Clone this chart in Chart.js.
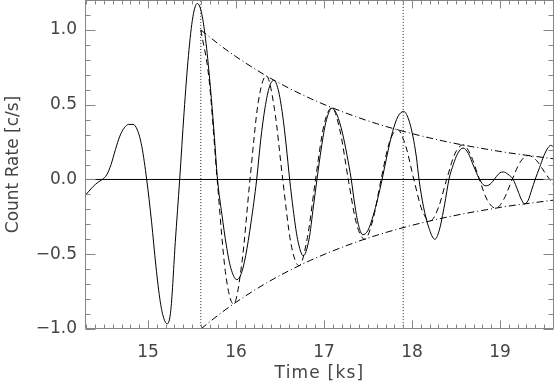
<!DOCTYPE html>
<html>
<head>
<meta charset="utf-8">
<script src="https://cdn.jsdelivr.net/npm/chart.js@4/dist/chart.umd.min.js"></script>
<style>
  html, body { margin: 0; padding: 0; background: #fff; }
  #wrap { width: 554px; height: 386px; }
</style>
</head>
<body>
<div id="wrap"><canvas id="lc" width="554" height="386"></canvas></div>
<script>
// axis limits and ticks
const xMin = 14.284, xMax = 19.614;
const yMin = -1.0, yMax = 1.2;
const xMajorTicks = [15, 16, 17, 18, 19];
const yMajorTicks = [-1.0, -0.5, 0.0, 0.5, 1.0];
const dottedMarks = [15.6, 17.9];

// observed light curve (solid)
const lcTime = [14.284, 14.33, 14.38, 14.43, 14.48, 14.53, 14.58, 14.63, 14.68, 14.73, 14.78, 14.83, 14.88, 14.93, 14.985,
  15.04, 15.09, 15.14, 15.18, 15.22, 15.26, 15.31, 15.36, 15.41, 15.46, 15.51, 15.56, 15.61, 15.66, 15.71, 15.75, 15.79,
  15.84, 15.89, 15.94, 16.01, 16.06, 16.11, 16.17, 16.235, 16.28, 16.33, 16.38, 16.43, 16.48, 16.53, 16.57, 16.61,
  16.65, 16.70, 16.765, 16.83, 16.88, 16.92, 16.97, 17.02, 17.09, 17.15, 17.21, 17.26, 17.31, 17.35, 17.39, 17.44,
  17.50, 17.56, 17.61, 17.66, 17.72, 17.78, 17.84, 17.905, 17.96, 18.01, 18.05, 18.08, 18.13, 18.19, 18.26, 18.31,
  18.37, 18.42, 18.47, 18.52, 18.58, 18.64, 18.70, 18.76, 18.81, 18.85, 18.90, 18.96, 19.00, 19.04, 19.09, 19.15,
  19.20, 19.24, 19.28, 19.32, 19.36, 19.40, 19.45, 19.50, 19.55, 19.58, 19.614];
const lcRate = [-0.107, -0.078, -0.045, -0.02, 0.0, 0.03, 0.10, 0.20, 0.29, 0.345, 0.368, 0.368, 0.33, 0.22, 0.0,
  -0.28, -0.58, -0.82, -0.93, -0.965, -0.87, -0.42, 0.0, 0.45, 0.83, 1.087, 1.177, 1.11, 0.91, 0.61, 0.32, 0.0,
  -0.235, -0.44, -0.59, -0.67, -0.63, -0.51, -0.29, 0.0, 0.26, 0.48, 0.62, 0.663, 0.60, 0.43, 0.23, 0.0,
  -0.20, -0.40, -0.51, -0.40, -0.18, 0.0, 0.21, 0.38, 0.476, 0.43, 0.31, 0.167, 0.0, -0.17, -0.30, -0.37,
  -0.34, -0.24, -0.13, 0.0, 0.17, 0.32, 0.42, 0.455, 0.405, 0.29, 0.15, 0.0, -0.18, -0.32, -0.40, -0.34,
  -0.17, 0.0, 0.10, 0.175, 0.21, 0.175, 0.09, 0.01, -0.035, -0.042, -0.025, 0.02, 0.045, 0.05, 0.035, 0.0,
  -0.07, -0.13, -0.163, -0.14, -0.07, 0.0, 0.08, 0.16, 0.215, 0.228, 0.215];

// damped oscillation fit (dashed)
const fitTime = [15.600, 15.693, 15.786, 15.879, 15.973, 16.066, 16.159, 16.252, 16.345, 16.438, 16.531, 16.624,
  16.718, 16.811, 16.904, 16.997, 17.090, 17.183, 17.276, 17.369, 17.463, 17.556, 17.649, 17.742, 17.835, 17.928,
  18.021, 18.114, 18.208, 18.301, 18.394, 18.487, 18.580, 18.673, 18.766, 18.859, 18.953, 19.046, 19.139, 19.232,
  19.325, 19.418, 19.511, 19.614];
const fitRate = [1.00, 0.675, 0.0, -0.616, -0.833, -0.562, 0.0, 0.513, 0.693, 0.468, 0.0, -0.427,
  -0.577, -0.390, 0.0, 0.356, 0.480, 0.324, 0.0, -0.296, -0.400, -0.270, 0.0, 0.246, 0.333, 0.225,
  0.0, -0.205, -0.277, -0.187, 0.0, 0.171, 0.231, 0.156, 0.0, -0.142, -0.192, -0.130, 0.0, 0.118,
  0.160, 0.125, 0.045, -0.04];

// decay envelope (dash-dot)
const envTime = [15.6, 15.85, 16.1, 16.35, 16.6, 16.85, 17.1, 17.35, 17.6, 17.85, 18.1, 18.35, 18.6, 18.85, 19.1, 19.35, 19.614];
const envUpper = [1.00, 0.884, 0.782, 0.691, 0.611, 0.540, 0.478, 0.422, 0.373, 0.330, 0.292, 0.258, 0.228, 0.202, 0.178, 0.158, 0.138];
const envLower = [-1.00, -0.884, -0.782, -0.691, -0.611, -0.540, -0.478, -0.422, -0.373, -0.330, -0.292, -0.258, -0.228, -0.202, -0.178, -0.158, -0.138];

const AXIS_COLOR = '#858585';
const TEXT_COLOR = '#444444';
const FONT = 'DejaVu Sans';

const pairs = (xs, ys) => xs.map((x, i) => ({ x, y: ys[i] }));
const minus = (v) => (v < 0 ? '\u2212' : '') + Math.abs(v).toFixed(1);

function lineSet(data, dash, color) {
  return {
    data,
    borderColor: color || '#000',
    borderWidth: 1,
    borderDash: dash || [],
    pointRadius: 0,
    fill: false,
    cubicInterpolationMode: 'monotone'
  };
}

const datasets = [
  lineSet([{ x: xMin, y: 0 }, { x: xMax, y: 0 }]),
  ...dottedMarks.map(t => lineSet([{ x: t, y: yMin }, { x: t, y: yMax }], [1, 2], '#222')),
  lineSet(pairs(envTime, envUpper), [7, 3, 1, 3]),
  lineSet(pairs(envTime, envLower), [7, 3, 1, 3]),
  lineSet(pairs(fitTime, fitRate), [6, 4]),
  lineSet(pairs(lcTime, lcRate))
];

// no auto padding for overhanging tick labels, the box fills the canvas
function fixBox(s, size) {
  if (s.isHorizontal()) s.height = size; else s.width = size;
  s.paddingTop = s.paddingBottom = s.paddingLeft = s.paddingRight = 0;
}

// wider letter spacing on the x title, like the original
function spacedTitle(s, spacing) {
  if (s._spaced) return;
  s._spaced = true;
  const orig = s.drawTitle.bind(s);
  s.drawTitle = () => {
    s.ctx.save();
    s.ctx.letterSpacing = spacing;
    orig();
    s.ctx.restore();
  };
}

// IDL style box with inward ticks on all four sides
const boxTicks = {
  id: 'boxTicks',
  afterDatasetsDraw(chart) {
    const { ctx, chartArea: a, scales: { x, y } } = chart;
    const L = a.left + 0.5, R = a.right - 0.5, T = a.top + 0.5, B = a.bottom - 0.5;
    ctx.save();
    ctx.strokeStyle = AXIS_COLOR;
    ctx.lineWidth = 1;
    ctx.beginPath();
    ctx.rect(L, T, R - L, B - T);
    for (let i = Math.ceil(xMin * 10); i <= Math.floor(xMax * 10); i++) {
      const px = Math.round(x.getPixelForValue(i / 10)) + 0.5;
      const len = i % 10 === 0 ? 8 : 4;
      ctx.moveTo(px, B); ctx.lineTo(px, B - len);
      ctx.moveTo(px, T); ctx.lineTo(px, T + len);
    }
    for (let i = Math.ceil(yMin * 10); i <= Math.floor(yMax * 10); i++) {
      const py = Math.round(y.getPixelForValue(i / 10)) + 0.5;
      const len = i % 5 === 0 ? 10 : 5;
      ctx.moveTo(L, py); ctx.lineTo(L + len, py);
      ctx.moveTo(R, py); ctx.lineTo(R - len, py);
    }
    ctx.stroke();
    ctx.restore();
  }
};

new Chart(document.getElementById('lc'), {
  type: 'line',
  data: { datasets },
  options: {
    responsive: false,
    animation: false,
    layout: { padding: 0 },
    plugins: { legend: { display: false }, tooltip: { enabled: false } },
    scales: {
      x: {
        type: 'linear',
        min: xMin,
        max: xMax,
        grid: { display: false, drawTicks: false },
        border: { display: false },
        afterBuildTicks: (s) => { s.ticks = xMajorTicks.map(v => ({ value: v })); },
        afterFit: (s) => { fixBox(s, 57); spacedTitle(s, '1.2px'); },
        ticks: {
          padding: 13,
          color: TEXT_COLOR,
          font: { family: FONT, size: 17 },
          callback: (v) => String(v)
        },
        title: {
          display: true,
          text: 'Time [ks]',
          color: TEXT_COLOR,
          font: { family: FONT, size: 17 },
          padding: { top: 0, bottom: 2 }
        }
      },
      y: {
        type: 'linear',
        min: yMin,
        max: yMax,
        grid: { display: false, drawTicks: false },
        border: { display: false },
        afterBuildTicks: (s) => { s.ticks = yMajorTicks.map(v => ({ value: v })); },
        afterFit: (s) => fixBox(s, 85),
        ticks: {
          padding: 8,
          color: TEXT_COLOR,
          font: { family: FONT, size: 17 },
          callback: (v) => minus(v)
        },
        title: {
          display: true,
          text: 'Count Rate [c/s]',
          color: TEXT_COLOR,
          font: { family: FONT, size: 17 },
          padding: { top: 3, bottom: 0 }
        }
      }
    }
  },
  plugins: [boxTicks]
});
</script>
</body>
</html>
